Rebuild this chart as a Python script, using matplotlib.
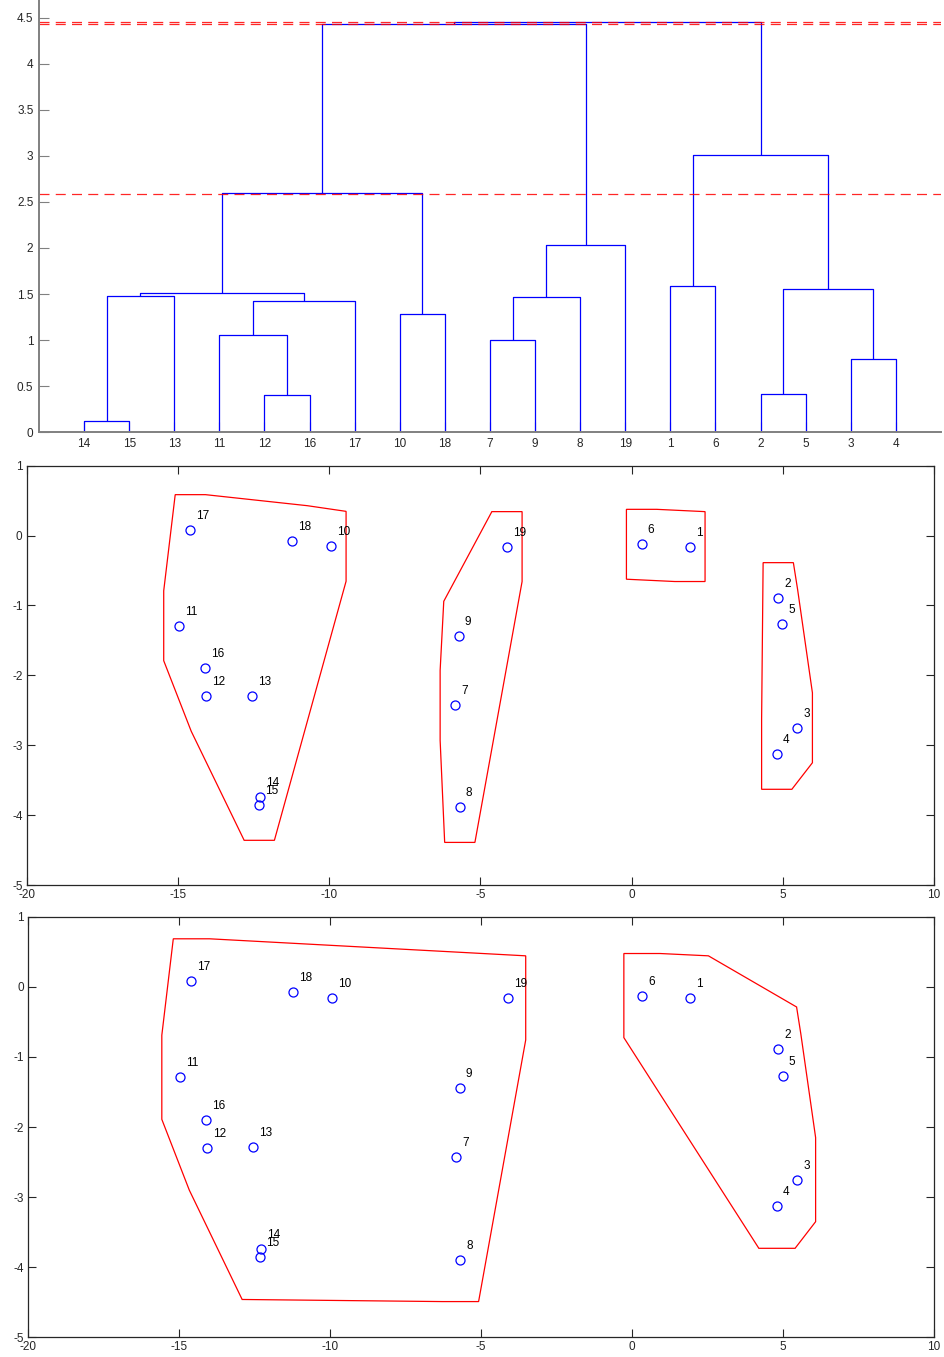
import matplotlib
matplotlib.use('Agg')
import matplotlib.pyplot as plt
import numpy as np

plt.rcParams['font.family'] = ['Liberation Sans', 'DejaVu Sans']
plt.rcParams['font.size'] = 8.5
plt.rcParams['axes.unicode_minus'] = False

# point coordinates, point i+1 is at index i
point_x = [1.93, 4.85, 5.48, 4.80, 4.99, 0.33, -5.83, -5.68, -5.71, -9.94,
           -14.97, -14.06, -12.55, -12.27, -12.31, -14.12, -14.59, -11.22, -4.12]
point_y = [-0.157, -0.887, -2.75, -3.13, -1.27, -0.124, -2.43, -3.89, -1.44, -0.153,
           -1.29, -2.30, -2.29, -3.74, -3.86, -1.90, 0.086, -0.072, -0.157]
point_labels = [str(i) for i in range(1, 20)]

# dendrogram: leaves 1..19, merge k gets id 20+k
leaf_order = [14, 15, 13, 11, 12, 16, 17, 10, 18, 7, 9, 8, 19, 1, 6, 2, 5, 3, 4]
link_left = [14, 12, 2, 3, 7, 11, 10, 25, 24, 20, 29, 22, 1, 28, 30, 32, 34, 36]
link_right = [15, 16, 5, 4, 9, 21, 18, 17, 8, 13, 27, 23, 6, 19, 26, 31, 33, 35]
link_height = [0.126, 0.40, 0.413, 0.793, 0.999, 1.06, 1.281, 1.429, 1.472, 1.483,
               1.516, 1.559, 1.592, 2.034, 2.595, 3.008, 4.43, 4.455]
cut_heights = [4.455, 4.43, 2.59]

groups_4 = [[10, 11, 12, 13, 14, 15, 16, 17, 18], [7, 8, 9, 19], [1, 6], [2, 3, 4, 5]]
groups_2 = [[7, 8, 9, 10, 11, 12, 13, 14, 15, 16, 17, 18, 19], [1, 2, 3, 4, 5, 6]]
hull_pad = [0.5, 0.6]

TXT = '#262626'


def convex_hull(px, py, pad):
    pts = set()
    for x, y in zip(px, py):
        for dx in (-pad, pad):
            for dy in (-pad, pad):
                pts.add((round(x + dx, 6), round(y + dy, 6)))
    pts = sorted(pts)

    def cross(o, a, b):
        return (a[0] - o[0]) * (b[1] - o[1]) - (a[1] - o[1]) * (b[0] - o[0])

    lower = []
    for p in pts:
        while len(lower) >= 2 and cross(lower[-2], lower[-1], p) <= 0:
            lower.pop()
        lower.append(p)
    upper = []
    for p in reversed(pts):
        while len(upper) >= 2 and cross(upper[-2], upper[-1], p) <= 0:
            upper.pop()
        upper.append(p)
    return np.array(lower[:-1] + upper[:-1])


fig = plt.figure(figsize=(9.44, 13.57), dpi=100)

# ---- dendrogram ----
ax = fig.add_axes([0.0413, 0.6814, 0.9555, 0.3186])
n = len(leaf_order)
node_x = {leaf: i + 1 for i, leaf in enumerate(leaf_order)}
node_h = {leaf: 0.0 for leaf in leaf_order}
for k, (a, b, h) in enumerate(zip(link_left, link_right, link_height)):
    xa, xb = node_x[a], node_x[b]
    ax.plot([xa, xa, xb, xb], [node_h[a], h, h, node_h[b]], color='blue', lw=0.9,
            solid_capstyle='butt')
    node_x[n + 1 + k] = (xa + xb) / 2
    node_h[n + 1 + k] = h
for c in cut_heights:
    ax.axhline(c, color='red', ls=(0, (8, 5)), lw=0.9, alpha=0.85)
ax.set_xlim(0, 20)
ax.set_ylim(0, 4.69)
ax.set_xticks(range(1, n + 1))
ax.set_xticklabels([str(v) for v in leaf_order])
ax.set_yticks(np.arange(0, 4.51, 0.5))
ax.set_yticklabels(['%g' % v for v in np.arange(0, 4.51, 0.5)])
for s in ['top', 'right']:
    ax.spines[s].set_visible(False)
for s in ['left', 'bottom']:
    ax.spines[s].set_color('#808080')
    ax.spines[s].set_linewidth(1.4)
ax.tick_params(direction='in', length=7, width=0.8, color='#808080',
               labelcolor=TXT, pad=4)

# ---- scatter plots with group hulls ----
for rect, groups, pad in [([0.0283, 0.3478, 0.9611, 0.3090], groups_4, hull_pad[0]),
                          ([0.0297, 0.0145, 0.9597, 0.3099], groups_2, hull_pad[1])]:
    ax = fig.add_axes(rect)
    for g in groups:
        gx = [point_x[i - 1] for i in g]
        gy = [point_y[i - 1] for i in g]
        h = convex_hull(gx, gy, pad)
        ax.fill(h[:, 0], h[:, 1], fill=False, edgecolor='red', lw=0.9)
    ax.plot(point_x, point_y, 'o', mfc='none', mec='blue', ms=6.5, mew=0.9)
    for x, y, lab in zip(point_x, point_y, point_labels):
        ax.text(x + 0.2, y + 0.2, lab, ha='left', va='center', fontsize=8.5)
    ax.set_xlim(-20, 10)
    ax.set_ylim(-5, 1)
    ax.set_xticks(range(-20, 11, 5))
    ax.set_yticks(range(-5, 2))
    for s in ax.spines.values():
        s.set_color(TXT)
        s.set_linewidth(0.9)
    ax.tick_params(direction='in', length=6, width=0.8, color=TXT,
                   labelcolor=TXT, top=True, right=True, pad=3)

fig.savefig('out.png', dpi=100)
